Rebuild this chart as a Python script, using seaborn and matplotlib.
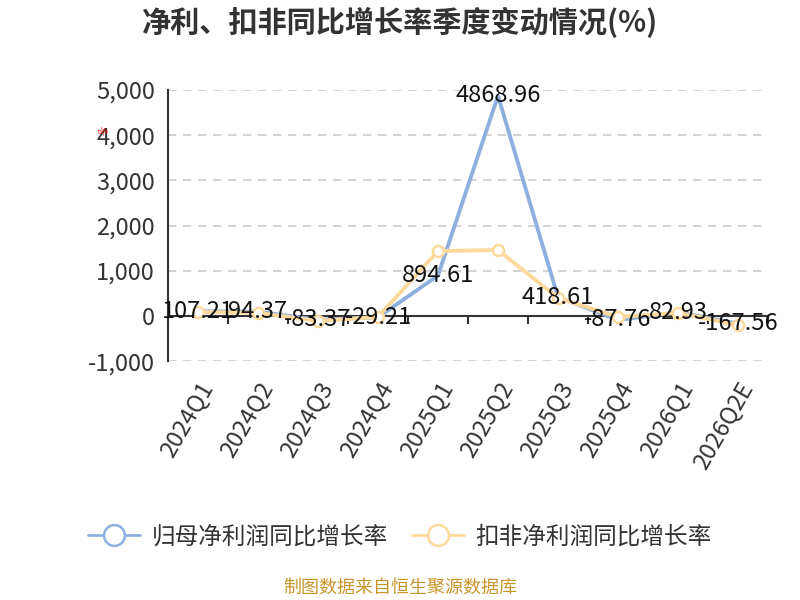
import pandas as pd
import matplotlib
matplotlib.use('Agg')
import matplotlib.pyplot as plt
import seaborn as sns
from matplotlib.lines import Line2D
from matplotlib.ticker import FuncFormatter, MultipleLocator

quarters = ['2024Q1', '2024Q2', '2024Q3', '2024Q4', '2025Q1',
            '2025Q2', '2025Q3', '2025Q4', '2026Q1', '2026Q2E']
net_profit_yoy = [107.21, 94.37, -83.37, -29.21, 894.61,
                  4868.96, 418.61, -87.76, 82.93, -167.56]
deducted_yoy = [90, 70, -110, -20, 1438, 1460, 398, -20, 70, -200]
series_names = ['归母净利润同比增长率', '扣非净利润同比增长率']

blue = '#8eb0df'
orange = '#ffd99c'
y_min, y_max = -1000, 5000

sns.set_style('white')
plt.rcParams['font.family'] = ['Noto Sans CJK SC', 'DejaVu Sans']

data = pd.DataFrame({'x': range(len(quarters)),
                     'net': net_profit_yoy,
                     'ded': deducted_yoy})

fig = plt.figure(figsize=(8, 6), dpi=100)
ax = fig.add_axes([0.21, 0.398, 0.75, 0.452])

# category axis line along zero
ax.axhline(0, color='#333333', linewidth=1.5, zorder=1.5)

sns.lineplot(data=data, x='x', y='net', color=blue, linewidth=2.8, ax=ax)
sns.lineplot(data=data, x='x', y='ded', color=orange, linewidth=2.8, ax=ax,
             marker='o', markersize=8, markerfacecolor='white',
             markeredgecolor=orange, markeredgewidth=1.8)

for i, v in enumerate(net_profit_yoy):
    ax.text(i, v, f'{v:.2f}', ha='center', va='center', fontsize=17,
            color='#111111', zorder=5)

for s in ['top', 'right', 'bottom']:
    ax.spines[s].set_visible(False)
ax.spines['left'].set_color('#333333')
ax.spines['left'].set_linewidth(1.5)

ax.set_xlim(-0.5, len(quarters) - 0.5)
ax.set_ylim(y_min, y_max)
ax.yaxis.set_major_locator(MultipleLocator(1000))
ax.yaxis.set_major_formatter(FuncFormatter(lambda v, p: f'{v:,.0f}'))
ax.grid(axis='y', linestyle=(0, (5, 4)), color='#cccccc', linewidth=1.2)
ax.set_axisbelow(True)

# labels sit at the bottom of the grid
ax.set_xticks(range(len(quarters)))
ax.set_xticklabels(quarters, rotation=60, ha='right', rotation_mode='anchor')
ax.tick_params(axis='x', which='major', length=0, labelsize=17,
               labelcolor='#333333', pad=12)
ax.tick_params(axis='y', length=6, width=1.5, color='#333333',
               labelsize=17, labelcolor='#333333')
ax.set_xlabel('')
ax.set_ylabel('')

# boundary ticks hanging below the zero line
zero_axis = ax.secondary_xaxis((0 - y_min) / (y_max - y_min))
zero_axis.set_xticks([i - 0.5 for i in range(len(quarters) + 1)])
zero_axis.set_xticklabels([])
zero_axis.xaxis.set_ticks_position('bottom')
zero_axis.tick_params(axis='x', length=6, width=1.5, color='#333333',
                      direction='out')
for s in zero_axis.spines.values():
    s.set_visible(False)

fig.text(0.5, 0.962, '净利、扣非同比增长率季度变动情况(%)', ha='center', va='center',
         fontsize=21, fontweight='bold', color='#333333')
fig.text(0.129, 0.78, '%', ha='center', va='center', fontsize=7,
         color='red', rotation=45)

handles = [Line2D([0], [0], color=c, linewidth=2, marker='o', markersize=15,
                  markerfacecolor='white', markeredgecolor=c, markeredgewidth=1.8)
           for c in [blue, orange]]
fig.legend(handles, series_names, loc='center', bbox_to_anchor=(0.5, 0.105),
           ncol=2, frameon=False, fontsize=17, handlelength=2.2,
           columnspacing=1.0, handletextpad=0.5, labelcolor='#333333')

fig.text(0.5, 0.02, '制图数据来自恒生聚源数据库', ha='center', va='center',
         fontsize=13, color='#c9962a')

fig.savefig('out.png', dpi=100)
